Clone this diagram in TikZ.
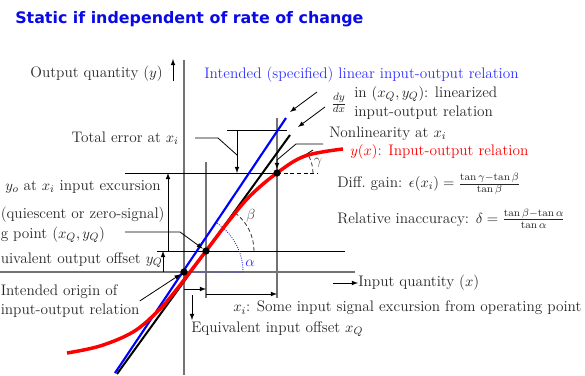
\documentclass[tikz,border=0pt]{standalone}
\usepackage{amsmath}
\usepackage{fontspec}
\newfontfamily\titlefont{DejaVu Sans}
\usetikzlibrary{shapes,arrows,positioning,calc}

\definecolor{titleblue}{RGB}{10,10,230}
\definecolor{specblue}{RGB}{50,50,255}

\begin{document}
\begin{tikzpicture}[x=0.75pt, y=-0.75pt, >=latex, font=\fontsize{11.45}{13.9}\selectfont]
    \tikzstyle{axis}=[draw=black!55, line width=1.2pt]
    \tikzstyle{guide}=[draw=black!55, line width=1pt]
    \tikzstyle{thin line}=[draw=black, line width=0.6pt]
    \tikzstyle{dot}=[circle, fill=black, minimum size=5.5pt, inner sep=0pt]
    \tikzstyle{annot}=[inner sep=0pt, text=black!85]
    \tikzstyle{blue annot}=[annot, text=specblue]
    \tikzstyle{red annot}=[annot, text=red]

    \useasboundingbox (0,0) rectangle (585,375);

    % Title
    \node[anchor=west, inner sep=0pt, text=titleblue, font=\titlefont\bfseries\fontsize{11.9}{14}\selectfont] (title) at (15,19) {Static if independent of rate of change};

    % Points of the relation
    \coordinate (O) at (184,272);
    \coordinate (Q) at (206,251);
    \coordinate (P) at (277,173);

    % Draw the axes and the guide lines
    \draw[axis] (184,60) -- (184,375);
    \draw[axis] (0,272) -- (355,272);
    \draw[guide] (206,162) -- (206,298);
    \draw[guide] (277,118) -- (277,298);
    \draw[thin line] (157,251) -- (345,251);
    \draw[thin line] (125,173) -- (P);
    \draw[thin line, densely dashed] (P) -- (318,173);
    \draw[thin line] (227,130) -- (287,130);

    % Axis labels
    \node[annot, anchor=east] (ylabel) at (163,74) {Output quantity ($y$)};
    \draw[thin line,->] (173,81) -- (173,59);
    \node[annot, anchor=west] (xlabel) at (358,283) {Input quantity ($x$)};
    \draw[thin line,->] (333,283) -- (xlabel.west);

    % Annotate the right side
    \node[blue annot, anchor=west] (intended) at (204,75) {Intended (specified) linear input-output relation};
    \node[annot] (dydx) at (339,103) {$\frac{dy}{dx}$};
    \node[annot, anchor=west, align=left] (linearized) at (354,103) {in $(x_Q,y_Q)$: linearized\\[0.3pt]input-output relation};
    \node[annot, anchor=west] (nonlin) at (329,134) {Nonlinearity at $x_i$};
    \node[red annot, anchor=west] (relation) at (350,152) {$y(x)$: Input-output relation};
    \node[annot, anchor=west] (gain) at (337,184) {Diff.\ gain: $\epsilon(x_i)=\frac{\tan\gamma-\tan\beta}{\tan\beta}$};
    \node[annot, anchor=west] (inacc) at (337,219) {Relative inaccuracy: $\delta=\frac{\tan\beta-\tan\alpha}{\tan\alpha}$};

    % Annotate the bottom
    \node[annot, anchor=west] (excursion) at (233,308) {$x_i$: Some input signal excursion from operating point};
    \node[annot, anchor=west] (inoffset) at (191,329) {Equivalent input offset $x_Q$};

    % Annotate the left side
    \node[annot, anchor=east] (toterr) at (179,138) {Total error at $x_i$};
    \node[annot, anchor=east] (yo) at (161,187) {$y_o$ at $x_i$ input excursion};
    \node[annot, anchor=west] (quiescent) at (0.5,215) {(quiescent or zero-signal)};
    \node[annot, anchor=west] (oppoint) at (0.5,235) {g point ($x_Q,y_Q$)};
    \node[annot, anchor=west] (outoffset) at (0.5,260) {uivalent output offset $y_Q$};
    \node[annot, anchor=west, align=left] (origin) at (0.5,301) {Intended origin of\\[0.3pt]input-output relation};

    % Dimension arrows
    \draw[thin line,->] (237,130) -- (237,173);
    \draw[thin line,->] (168,251) -- (168,173);
    \draw[thin line,->] (163,272) -- (163,251);
    \draw[thin line,->] (184,289) -- (206,289);
    \draw[thin line,->] (206,294) -- (277,294);
    \draw[thin line,->] (192,295) -- (192,320);

    % Angles
    \draw[specblue, densely dotted, line width=0.7pt] (O) -- ++(59,0) arc[start angle=0, end angle=56, radius=44.25pt];
    \draw[black!80, densely dashed, line width=0.6pt] (Q) ++(48,0) arc[start angle=0, end angle=54, radius=36pt];
    \draw[black!80, densely dashed, line width=0.6pt] (P) ++(36,0) arc[start angle=0, end angle=33, radius=27pt];
    \node[text=specblue] (alpha) at (250,263) {$\alpha$};
    \node[text=black!70] (beta) at (251,216) {$\beta$};
    \node[text=black!70] (gamma) at (318,163) {$\gamma$};

    % Tangents and the relation itself
    \draw[thin line] (P) -- (313,150);
    \draw[black, line width=1.5pt] (117,374) -- (290,135);
    \draw[blue, line width=1.6pt] (115,373) -- (286,118);
    \draw[red, line width=2.6pt] plot[smooth, tension=0.6] coordinates {(67,353) (100,346) (133,332) (157,312) (173,294) (190,272) (206,251) (228,222) (250,196) (277,173) (305,156) (343,149)};

    % Draw the points
    \foreach \name in {O,Q,P}
        \node[dot] (\name-dot) at (\name) {};

    % Leaders from the texts
    \coordinate (op leader) at (125,232);
    \draw[thin line] ([xshift=12pt]toterr.east) -- (218,138) -- (237,155);
    \draw[thin line,->] (op leader) -- (180,232) -- (Q-dot);
    \draw[thin line,->] (origin.east) -- (O-dot);
    \draw[thin line,->] (323,144) -- (296,144) -- (277,160) -- (P-dot);
    \draw[thin line,->] (317,92) -- (290,112);
    \draw[thin line,->] (325,107) -- (298,127);
\end{tikzpicture}
\end{document}
